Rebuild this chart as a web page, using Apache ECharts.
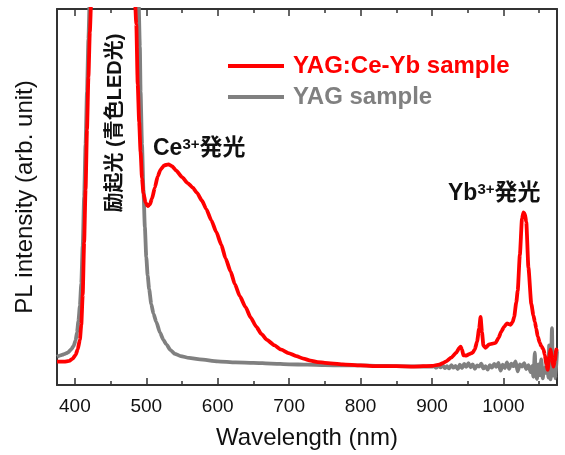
<!DOCTYPE html>
<html>
<head>
<meta charset="utf-8">
<script src="https://cdn.jsdelivr.net/npm/echarts@6/dist/echarts.min.js"></script>
<style>
html, body { margin: 0; padding: 0; background: #fff; }
#spec { width: 565px; height: 455px; }
</style>
</head>
<body>
<div id="spec"></div>
<script>
// YAG:Ce-Yb sample spectrum (wavelength nm / intensity, arb.)
var redX = [375, 385, 392, 397, 401, 404, 407, 409, 411, 413, 415, 417, 419, 421, 423, 430, 450, 470, 480, 484,
    486, 488, 490, 492, 494, 496, 499, 502, 505, 508, 512, 516, 520, 525, 531, 536, 542, 550, 558, 565,
    571, 578, 584, 591, 598, 605, 611, 618, 624, 631, 639, 646, 654, 661, 669, 679, 689, 699, 710, 720,
    730, 740, 750, 775, 800, 825, 850, 875, 900, 910, 915, 920, 927, 934, 938, 940, 942, 944, 948, 952,
    957, 960, 963, 966, 968, 970, 972, 975, 980, 985, 989, 993, 997, 1001, 1005, 1008, 1010, 1013, 1015, 1018,
    1020, 1023, 1026, 1028, 1030, 1032, 1035, 1039, 1042, 1044, 1046, 1048, 1051, 1053, 1056, 1058, 1060, 1062, 1064, 1066,
    1068, 1070, 1072, 1074, 1075];
var redY = [6.2, 6.2, 6.4, 7.0, 8.0, 9.5, 12, 16, 24, 38, 52, 68, 82, 94, 103, 125, 140, 130, 115, 103,
    96, 80, 70, 62, 55, 51, 48.5, 47.6, 48, 49.6, 52.5, 55.5, 57.3, 58.4, 58.7, 58.2, 57.0, 55.3, 53.7, 52.5,
    51.1, 49.0, 46.8, 43.8, 40.7, 37.3, 33.7, 30.2, 26.8, 23.6, 20.7, 18.0, 15.5, 13.6, 12.0, 10.6, 9.4, 8.5, 7.7, 7.0,
    6.5, 6.1, 5.9, 5.5, 5.2, 5.0, 5.0, 4.9, 5.1, 5.4, 5.8, 6.3, 7.3, 8.6, 9.8, 10.2, 9.5, 7.9, 7.8, 8.2,
    8.6, 9.5, 11.5, 15, 18.1, 14, 10.5, 9.9, 10.8, 11.0, 11.2, 12.5, 14.2, 15.5, 16.4, 16.2, 16.0, 16.8, 18.1, 22,
    25.1, 34.6, 44.2, 45.9, 45.5, 43.3, 31.2, 21.6, 18.5, 16.8, 15, 12.9, 11.2, 10.3, 9.5, 8, 5.5, 4.0, 7.5, 9.5,
    7.0, 4.9, 6.5, 9.5, 9.0];

// YAG sample spectrum
var grayX = [375, 380, 385, 390, 395, 398, 401, 403, 405, 407, 409, 411, 413, 415, 417, 419, 421, 430, 450, 470,
    485, 489, 491, 492, 494, 496, 498, 500, 502, 504, 507, 510, 514, 519, 524, 528, 534, 540, 548, 560,
    575, 600, 625, 650, 675, 700, 725, 750, 775, 800, 825, 850, 875, 900,
    903, 906, 909, 912, 915, 918, 921, 924, 927, 930, 933, 936, 939, 942, 945, 948, 951, 954, 957, 960,
    963, 966, 969, 972, 975, 978, 981, 984, 987, 990, 993, 996, 999, 1002, 1005, 1008, 1011, 1014, 1017, 1020,
    1023, 1026, 1029, 1032, 1035, 1038, 1040, 1042, 1044, 1045, 1047, 1049, 1051, 1053, 1055, 1057, 1059, 1061, 1063, 1064,
    1065, 1066, 1068, 1069, 1071, 1073, 1075];
var grayY = [7.5, 7.9, 8.2, 8.6, 9.5, 10.3, 11.8, 14, 17, 21, 27, 37, 50, 64, 78, 92, 104, 130, 145, 140,
    120, 104, 90, 78, 64, 52, 42, 34, 29, 25.5, 21.5, 19, 16.8, 14, 12, 10.8, 9.3, 8.3, 7.7, 7.2,
    6.8, 6.3, 6.0, 5.9, 5.7, 5.5, 5.4, 5.3, 5.2, 5.2, 5.1, 5.0, 4.95, 4.9,
    5.0, 4.6, 5.1, 4.7, 5.2, 4.5, 5.0, 4.4, 5.3, 4.6, 5.1, 4.2, 5.4, 4.5, 5.6, 4.8, 5.8, 4.7, 5.5, 4.3,
    5.2, 4.9, 5.7, 4.4, 5.0, 4.1, 5.3, 4.6, 5.6, 4.8, 5.9, 3.8, 5.4, 4.5, 6.0, 4.3, 5.7, 5.0, 6.3, 3.6,
    5.5, 4.9, 5.8, 4.2, 5.3, 3.4, 5.0, 2.2, 8.6, 3.0, 1.6, 5.5, 2.6, 6.8, 1.8, 4.5, 3.2, 7.0, 2.0, 10.5,
    4.0, 1.5, 15.1, 2.5, 6.0, 1.8, 9.0];

var majorTicks = [400, 500, 600, 700, 800, 900, 1000];
var minorTicks = [450, 550, 650, 750, 850, 950, 1050];

function pairs(xs, ys) {
    return xs.map(function (x, i) { return [x, ys[i]]; });
}

var latin = '"Liberation Sans", Arial, sans-serif';
var jp = '"Liberation Sans", "Noto Sans CJK JP", sans-serif';
var axisColor = '#333';

function xAx(pos, ticks, len, showLine, showLabel) {
    return {
        type: 'value',
        position: pos,
        min: 375,
        max: 1075,
        splitLine: { show: false },
        axisLine: { show: showLine, onZero: false, lineStyle: { color: axisColor, width: 2 } },
        axisTick: { show: true, inside: true, length: len, customValues: ticks, lineStyle: { color: axisColor, width: 1.5 } },
        axisLabel: {
            show: showLabel, customValues: ticks, margin: 12, color: '#111', fontSize: 19, fontFamily: latin,
            formatter: function (v) { return String(v); }
        }
    };
}

var myChart = echarts.init(document.getElementById('spec'));
var option = {
    animation: false,
    backgroundColor: '#fff',
    grid: { left: 57, right: 8, top: 9, bottom: 62, containLabel: false },
    legend: {
        orient: 'vertical',
        left: 223,
        top: 49,
        icon: 'rect',
        itemWidth: 56,
        itemHeight: 4,
        itemGap: 7,
        textStyle: { fontSize: 24, fontWeight: 'bold', fontFamily: latin, padding: [0, 0, 0, 4] },
        data: [
            { name: 'YAG:Ce-Yb sample', textStyle: { color: '#ff0000' } },
            { name: 'YAG sample', textStyle: { color: '#808080' } }
        ]
    },
    xAxis: [
        Object.assign(xAx('bottom', majorTicks, 7, true, true), {
            name: 'Wavelength (nm)',
            nameLocation: 'middle',
            nameGap: 41,
            nameTextStyle: { fontSize: 24, color: '#111', fontFamily: latin }
        }),
        xAx('bottom', minorTicks, 4, false, false),
        xAx('top', majorTicks, 7, true, false),
        xAx('top', minorTicks, 4, false, false)
    ],
    yAxis: [
        {
            type: 'value',
            min: 0,
            max: 100,
            name: 'PL intensity (arb. unit)',
            nameLocation: 'middle',
            nameGap: 20,
            nameTextStyle: { fontSize: 24, color: '#111', fontFamily: latin },
            splitLine: { show: false },
            axisTick: { show: false },
            axisLabel: { show: false },
            axisLine: { show: true, lineStyle: { color: axisColor, width: 2 } }
        },
        {
            type: 'value',
            position: 'right',
            min: 0,
            max: 100,
            splitLine: { show: false },
            axisTick: { show: false },
            axisLabel: { show: false },
            axisLine: { show: true, lineStyle: { color: axisColor, width: 2 } }
        }
    ],
    series: [
        {
            name: 'YAG sample',
            type: 'line',
            data: pairs(grayX, grayY),
            symbol: 'none',
            smooth: 0.2,
            smoothMonotone: 'x',
            clip: true,
            lineStyle: { color: '#808080', width: 3.8 },
            itemStyle: { color: '#808080' }
        },
        {
            name: 'YAG:Ce-Yb sample',
            type: 'line',
            data: pairs(redX, redY),
            symbol: 'none',
            smooth: 0.2,
            smoothMonotone: 'x',
            clip: true,
            lineStyle: { color: '#ff0000', width: 3.8 },
            itemStyle: { color: '#ff0000' }
        }
    ],
    graphic: [
        {
            type: 'text',
            x: 115,
            y: 123,
            rotation: Math.PI / 2,
            style: {
                text: '励起光 (青色LED光)',
                align: 'center',
                verticalAlign: 'middle',
                fill: '#111',
                font: 'bold 20px ' + jp
            }
        },
        {
            type: 'text',
            x: 153,
            y: 149,
            style: {
                text: '{a|Ce}{s|3+}{a|発光}',
                align: 'left',
                verticalAlign: 'middle',
                rich: {
                    a: { fontSize: 23, fontWeight: 'bold', fontFamily: jp, fill: '#111' },
                    s: { fontSize: 15, fontWeight: 'bold', fontFamily: jp, fill: '#111', verticalAlign: 'top' }
                }
            }
        },
        {
            type: 'text',
            x: 448,
            y: 194,
            style: {
                text: '{a|Yb}{s|3+}{a|発光}',
                align: 'left',
                verticalAlign: 'middle',
                rich: {
                    a: { fontSize: 23, fontWeight: 'bold', fontFamily: jp, fill: '#111' },
                    s: { fontSize: 15, fontWeight: 'bold', fontFamily: jp, fill: '#111', verticalAlign: 'top' }
                }
            }
        }
    ]
};
myChart.setOption(option);
window.onresize = function () {
    myChart.resize();
};
</script>
</body>
</html>
